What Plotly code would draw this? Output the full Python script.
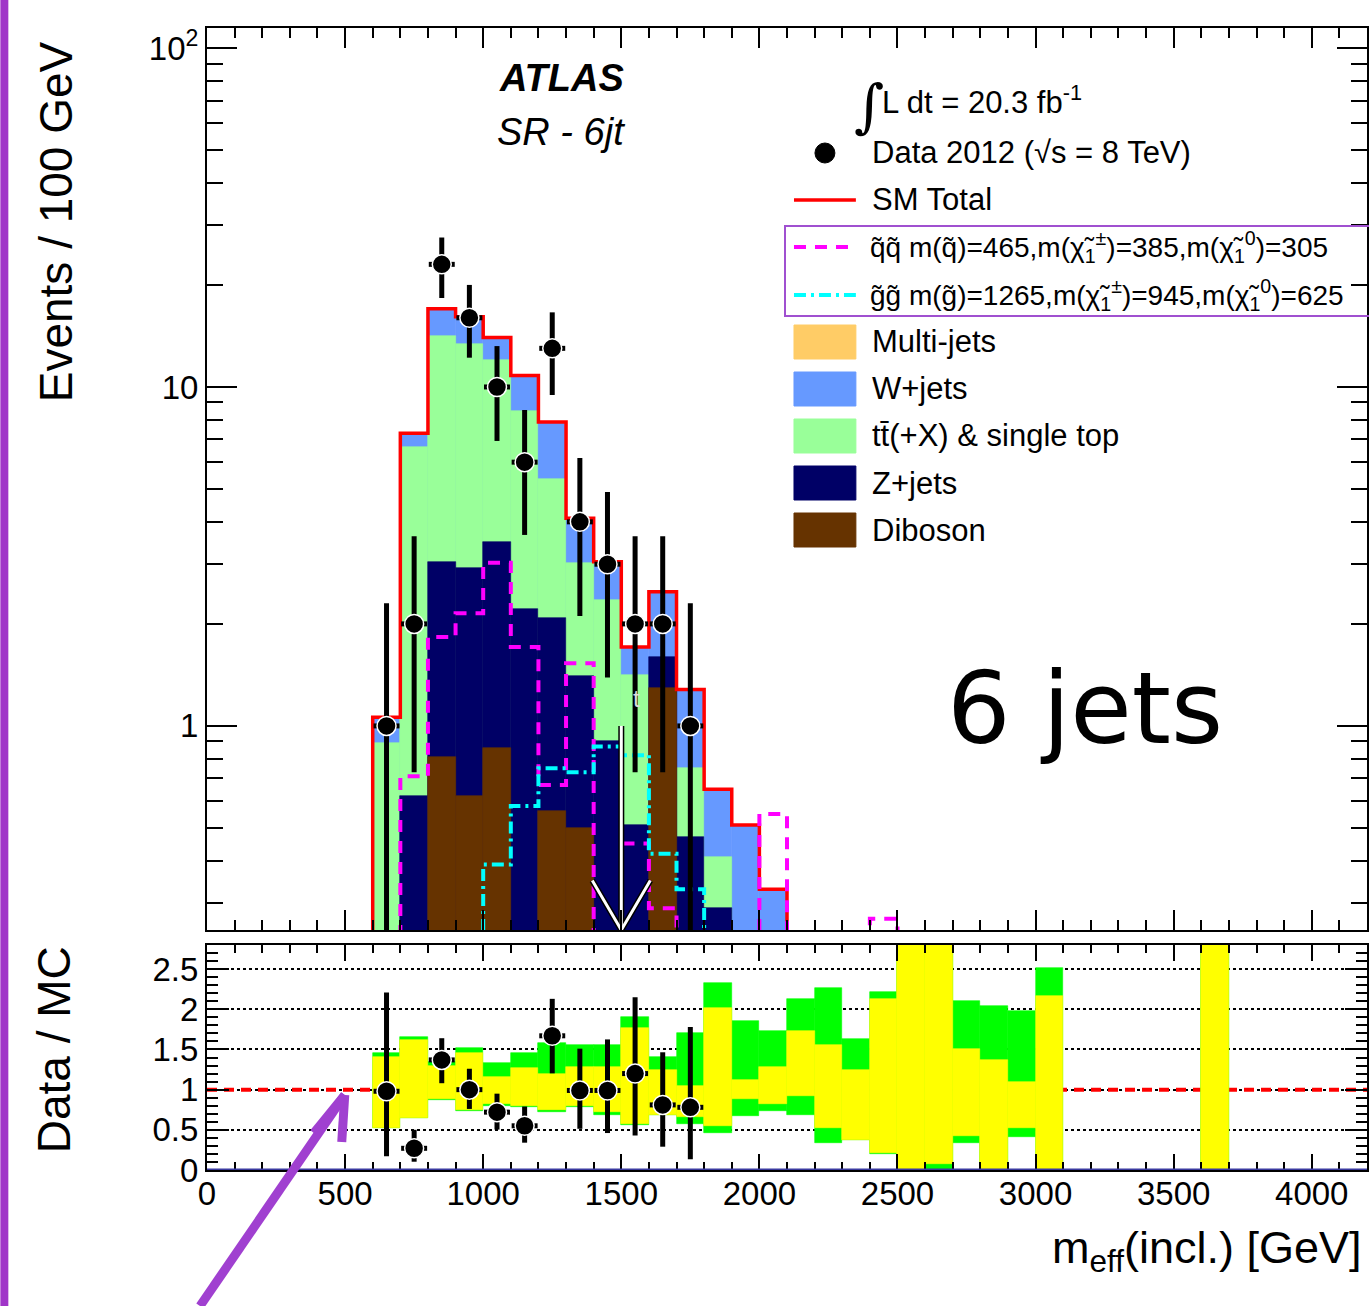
import plotly.graph_objects as go
import numpy as np

# ---------------- data ----------------
bin_lo = [600, 700, 800, 900, 1000, 1100, 1200, 1300, 1400, 1500, 1600, 1700, 1800, 1900, 2000]
diboson   = [0.0, 0.0, 0.81, 0.62, 0.86, 0.0, 0.56, 0.50, 0.0, 0.0, 1.29, 0.0, 0.0, 0.0, 0.0]
zjets     = [0.0, 0.62, 2.24, 2.30, 2.63, 2.21, 1.52, 0.90, 0.90, 0.51, 0.31, 0.47, 0.29, 0.0, 0.0]
ttbar     = [0.89, 6.03, 11.05, 10.5, 8.5, 6.3, 3.27, 1.63, 1.45, 0.90, 0.0, 0.28, 0.12, 0.0, 0.0]
wjets     = [0.17, 0.65, 2.9, 2.7, 2.0, 2.3, 2.53, 1.07, 0.70, 0.30, 0.89, 0.53, 0.24, 0.51, 0.33]
multijets = [0.0, 0.0, 0.0, 0.0, 0.0, 0.0, 0.0, 0.0, 0.0, 0.0, 0.0, 0.0, 0.0, 0.0, 0.0]

sig_lo = [600, 700, 800, 900, 1000, 1100, 1200, 1300, 1400, 1500, 1600, 1700, 1800, 1900, 2000, 2100, 2200, 2300, 2400]
sig_qq = [0.0, 0.71, 1.83, 2.15, 3.03, 1.71, 0.67, 1.53, 0.0, 0.45, 0.29, 0.0, 0.0, 0.0, 0.55, 0.0, 0.0, 0.0, 0.27]
sig_gg = [0.0, 0.0, 0.0, 0.0, 0.39, 0.58, 0.75, 0.73, 0.87, 0.82, 0.42, 0.33, 0.20, 0.0, 0.0, 0.0, 0.0, 0.0, 0.0]

data_x = [650, 750, 850, 950, 1050, 1150, 1250, 1350, 1450, 1550, 1650, 1750]
data_n = [1, 2, 23, 16, 10, 6, 13, 4, 3, 2, 2, 1]
data_err_up = [1.3, 1.63, 4.6, 4.0, 3.2, 2.55, 3.6, 2.17, 1.9, 1.63, 1.63, 1.3]
data_err_dn = [0.83, 1.27, 4.7, 3.8, 3.07, 2.34, 3.53, 1.89, 1.61, 1.27, 1.27, 0.83]

ratio_val = [0.98, 0.27, 1.37, 1.00, 0.72, 0.55, 1.67, 0.99, 0.99, 1.20, 0.81, 0.78]
ratio_up  = [1.23, 0.23, 0.27, 0.26, 0.23, 0.24, 0.46, 0.52, 0.635, 0.95, 0.655, 1.0]
ratio_dn  = [0.81, 0.167, 0.29, 0.24, 0.217, 0.21, 0.467, 0.477, 0.53, 0.77, 0.52, 0.645]

band_lo = [600, 700, 800, 900, 1000, 1100, 1200, 1300, 1400, 1500, 1600, 1700, 1800, 1900,
           2000, 2100, 2200, 2300, 2400, 2500, 2600, 2700, 2800, 2900, 3000, 3600]
yel_lo = [0.52, 0.65, 0.88, 0.75, 0.825, 0.80, 0.75, 0.80, 0.72, 0.575, 0.69, 0.66, 0.55, 0.88,
          0.825, 0.925, 0.52, 0.375, 0.217, 0.0, 0.075, 0.425, 0.0, 0.52, 0.0, 0.0]
yel_hi = [1.41, 1.62, 1.29, 1.46, 1.16, 1.27, 1.20, 1.28, 1.28, 1.77, 1.24, 1.05, 2.01, 1.12,
          1.28, 1.73, 1.55, 1.25, 2.13, 3.0, 3.0, 1.50, 1.375, 1.10, 2.16, 3.0]
grn_lo = [0.52, 0.65, 0.87, 0.73, 0.80, 0.78, 0.72, 0.78, 0.68, 0.554, 0.69, 0.575, 0.46, 0.675,
          0.73, 0.69, 0.34, 0.37, 0.20, 0.0, 0.0, 0.333, 0.0, 0.41, 0.0, 0.0]
grn_hi = [1.46, 1.65, 1.35, 1.52, 1.33, 1.46, 1.58, 1.56, 1.55, 1.90, 1.41, 1.71, 2.33, 1.85,
          1.73, 2.13, 2.27, 1.63, 2.21, 3.0, 3.0, 2.10, 2.04, 1.98, 2.52, 3.0]

x_ticks = [0, 500, 1000, 1500, 2000, 2500, 3000, 3500, 4000]
ratio_ticks = [0, 0.5, 1, 1.5, 2, 2.5]
ratio_tick_text = ["0", "0.5", "1", "1.5", "2", "2.5"]
top_ticks = [1, 10, 100]
top_tick_text = ["1", "10", "10<sup>2</sup>"]

cut_value = 1500

# ---------------- geometry ----------------
W, H = 1369, 1306
L, R, T, B = 207, 0, 28, 136
PW, PH = W - L - R, H - T - B
def fx(px): return (px - L) / PW
def fy(py): return (H - B - py) / PH

BW = 100
FLOOR = 1e-3
FONT = "Liberation Sans, Arial, Helvetica, sans-serif"

C_MJ, C_W, C_TT, C_Z, C_DB = "#FFCC66", "#6699FF", "#99FF99", "#000066", "#663300"

fig = go.Figure()

# ---------------- top panel stack (cumulative overlay, like THStack) ----------------
db = np.array(diboson); zj = np.array(zjets); tt = np.array(ttbar)
wj = np.array(wjets); mj = np.array(multijets)
cum_db = db
cum_z = cum_db + zj
cum_tt = cum_z + tt
cum_w = cum_tt + wj
total = cum_w + mj
centers = np.array(bin_lo) + BW / 2

def nz(arr, mask):
    return [float(v) if mask[i] > 0 else None for i, v in enumerate(arr)]

for yv, col, msk in [(total, C_MJ, mj), (cum_w, C_W, wj), (cum_tt, C_TT, tt),
                     (cum_z, C_Z, zj), (cum_db, C_DB, db)]:
    fig.add_trace(go.Bar(x=centers, y=nz(yv, msk), width=BW, marker=dict(color=col, line=dict(color=col, width=0.6)),
                         xaxis="x", yaxis="y", showlegend=False, hoverinfo="skip"))

def step_xy(lo, vals):
    xs = [lo[0] - BW] + list(lo) + [lo[-1] + BW, lo[-1] + 2 * BW]
    ys = [FLOOR] + [v if v > 0 else FLOOR for v in vals] + [FLOOR, FLOOR]
    return xs, ys

sx, sy = step_xy(bin_lo, total)
fig.add_trace(go.Scatter(x=sx, y=sy, mode="lines", line=dict(color="#FF0000", width=3.5, shape="hv"),
                         xaxis="x", yaxis="y", showlegend=False, hoverinfo="skip"))
qx, qy = step_xy(sig_lo, sig_qq)
fig.add_trace(go.Scatter(x=qx, y=qy, mode="lines", line=dict(color="#FF00FF", width=4, shape="hv", dash="12px,9px"),
                         xaxis="x", yaxis="y", showlegend=False, hoverinfo="skip"))
gx, gy = step_xy(sig_lo, sig_gg)
fig.add_trace(go.Scatter(x=gx, y=gy, mode="lines", line=dict(color="#00FFFF", width=4, shape="hv", dash="12px,5px,3px,5px"),
                         xaxis="x", yaxis="y", showlegend=False, hoverinfo="skip"))

# cut arrow (white with black outline)
arr_x = [cut_value, cut_value, None, cut_value - 105, cut_value, cut_value + 105]
arr_y = [1.0, 0.25, None, 0.35, 0.25, 0.35]
fig.add_trace(go.Scatter(x=arr_x, y=arr_y, mode="lines", line=dict(color="black", width=6),
                         xaxis="x", yaxis="y", showlegend=False, hoverinfo="skip"))
fig.add_trace(go.Scatter(x=arr_x, y=arr_y, mode="lines", line=dict(color="white", width=3),
                         xaxis="x", yaxis="y", showlegend=False, hoverinfo="skip"))

# data
fig.add_trace(go.Scatter(x=data_x, y=data_n, mode="markers",
                         marker=dict(color="black", size=19, line=dict(color="white", width=1.5)),
                         error_y=dict(type="data", array=data_err_up, arrayminus=data_err_dn,
                                      thickness=5, width=0, color="black"),
                         error_x=dict(type="constant", value=47, thickness=5, width=0, color="black"),
                         xaxis="x", yaxis="y", showlegend=False, hoverinfo="skip"))

# ---------------- ratio panel ----------------
bc = np.array(band_lo) + BW / 2
fig.add_trace(go.Bar(x=bc, y=np.array(grn_hi) - np.array(grn_lo), base=grn_lo, width=BW,
                     marker=dict(color="#00FF00", line=dict(color="#00FF00", width=0.6)),
                     xaxis="x2", yaxis="y2", showlegend=False, hoverinfo="skip"))
fig.add_trace(go.Bar(x=bc, y=np.array(yel_hi) - np.array(yel_lo), base=yel_lo, width=BW,
                     marker=dict(color="#FFFF00", line=dict(color="#FFFF00", width=0.6)),
                     xaxis="x2", yaxis="y2", showlegend=False, hoverinfo="skip"))
fig.add_trace(go.Scatter(x=data_x, y=ratio_val, mode="markers",
                         marker=dict(color="black", size=19, line=dict(color="white", width=1.5)),
                         error_y=dict(type="data", array=ratio_up, arrayminus=ratio_dn,
                                      thickness=5, width=0, color="black"),
                         error_x=dict(type="constant", value=47, thickness=5, width=0, color="black"),
                         xaxis="x2", yaxis="y2", showlegend=False, hoverinfo="skip"))

shapes = []
shapes.append(dict(type="line", xref="x2", yref="y2", x0=0, x1=4200, y0=1, y1=1, layer="between",
                   line=dict(color="#FF0000", width=4, dash="10px,7px")))
shapes.append(dict(type="line", xref="x2", yref="y2", x0=0, x1=4200, y0=0, y1=0, layer="above",
                   line=dict(color="#3a3aa0", width=3)))

# ---------------- axes ----------------
ydom_top = [fy(930), 1.0]
ydom_bot = [0.0, fy(945)]
minor_log = [m * d for d in (0.1, 1, 10, 100) for m in range(2, 10)]

axis_common = dict(showline=True, linecolor="black", linewidth=2, mirror="ticks", ticks="inside",
                   tickcolor="black", tickwidth=2, zeroline=False, showgrid=False,
                   tickfont=dict(family=FONT, size=33, color="black"))

fig.update_layout(
    width=W, height=H, margin=dict(l=L, r=R, t=T, b=B),
    paper_bgcolor="white", plot_bgcolor="white", barmode="overlay", bargap=0,
    xaxis=dict(axis_common, domain=[0, 1], anchor="y", range=[0, 4200], tickvals=x_ticks,
               ticklen=20, showticklabels=False,
               minor=dict(dtick=100, ticklen=10, ticks="inside", tickcolor="black", tickwidth=2)),
    yaxis=dict(axis_common, domain=ydom_top, anchor="x", type="log", range=[np.log10(0.25), 2.059],
               tickvals=top_ticks, ticktext=top_tick_text, ticklen=30,
               minor=dict(tickmode="array", tickvals=minor_log, ticklen=16, ticks="inside",
                          tickcolor="black", tickwidth=2)),
    xaxis2=dict(axis_common, domain=[0, 1], anchor="y2", range=[0, 4200], tickvals=x_ticks,
                ticktext=[str(v) for v in x_ticks], ticklen=16, ticklabelstandoff=-7,
                minor=dict(dtick=100, ticklen=8, ticks="inside", tickcolor="black", tickwidth=2)),
    yaxis2=dict(axis_common, domain=ydom_bot, anchor="x2", range=[0, 2.8],
                tickvals=ratio_ticks, ticktext=ratio_tick_text, ticklen=22,
                showgrid=True, gridcolor="black", gridwidth=1.5, griddash="dot",
                minor=dict(dtick=0.1, ticklen=11, ticks="inside", tickcolor="black", tickwidth=2)),
)

# ---------------- annotations / legend ----------------
ann = []
def text(px, py, s, size, xanchor="left", yanchor="middle", angle=0, color="black", family=FONT):
    ann.append(dict(x=fx(px), y=fy(py), xref="paper", yref="paper", text=s, showarrow=False,
                    xanchor=xanchor, yanchor=yanchor, textangle=angle,
                    font=dict(family=family, size=size, color=color)))

text(56, 222, "Events / 100 GeV", 46, xanchor="center", yanchor="middle", angle=-90)
text(54, 1050, "Data / MC", 46, xanchor="center", yanchor="middle", angle=-90)
text(1366, 1250, "m<sub>eff</sub>(incl.) [GeV]", 45, xanchor="right", yanchor="middle")
text(562, 78, "<b><i>ATLAS</i></b>", 38, xanchor="center")
text(562, 132, "<i>SR - 6jt</i>", 38, xanchor="center")
text(1087, 708, "6 jets", 100, xanchor="center", family="DejaVu Sans, sans-serif")
text(637, 698, "t", 24, xanchor="center", color="#dddddd")

# legend
text(870, 106, "∫", 58, xanchor="center", family="DejaVu Serif, serif")
text(881, 100, "L dt = 20.3 fb<sup>-1</sup>", 31)
shapes.append(dict(type="circle", xref="paper", yref="paper", x0=fx(816), x1=fx(836), y0=fy(163), y1=fy(143),
                   fillcolor="black", line=dict(color="black", width=1)))
text(871, 153, "Data 2012 (√s = 8 TeV)", 31)
shapes.append(dict(type="line", xref="paper", yref="paper", x0=fx(795), x1=fx(857), y0=fy(200), y1=fy(200),
                   line=dict(color="#FF0000", width=3.5)))
text(871, 200, "SM Total", 31)
shapes.append(dict(type="rect", xref="paper", yref="paper", x0=fx(786), x1=fx(1372), y0=fy(316), y1=fy(226),
                   line=dict(color="#A050D0", width=2)))
shapes.append(dict(type="line", xref="paper", yref="paper", x0=fx(795), x1=fx(857), y0=fy(247), y1=fy(247),
                   line=dict(color="#FF00FF", width=4, dash="12px,9px")))
text(869, 247, "q̃q̃ m(q̃)=465,m(χ̃<sub>1</sub><sup>±</sup>)=385,m(χ̃<sub>1</sub><sup>0</sup>)=305", 28)
shapes.append(dict(type="line", xref="paper", yref="paper", x0=fx(795), x1=fx(857), y0=fy(295), y1=fy(295),
                   line=dict(color="#00FFFF", width=4, dash="12px,5px,3px,5px")))
text(869, 295, "g̃g̃ m(g̃)=1265,m(χ̃<sub>1</sub><sup>±</sup>)=945,m(χ̃<sub>1</sub><sup>0</sup>)=625", 28)

leg_names = ["Multi-jets", "W+jets", "tt̄(+X) & single top", "Z+jets", "Diboson"]
leg_cols = [C_MJ, C_W, C_TT, C_Z, C_DB]
leg_y = [342, 389, 436, 483, 530]
for nm, col, yy in zip(leg_names, leg_cols, leg_y):
    shapes.append(dict(type="rect", xref="paper", yref="paper", x0=fx(795), x1=fx(857),
                       y0=fy(yy + 17), y1=fy(yy - 17), fillcolor=col, line=dict(color=col, width=1)))
    text(871, yy, nm, 31)

# decorations: purple side bar and arrow
shapes.append(dict(type="rect", xref="paper", yref="paper", x0=fx(0), x1=fx(8), y0=fy(1306), y1=fy(0),
                   fillcolor="#A035C8", line=dict(width=0)))
for (x0, y0, x1, y1) in [(200, 1306, 345, 1095), (345, 1095, 314, 1133), (345, 1095, 342, 1142)]:
    shapes.append(dict(type="line", xref="paper", yref="paper", x0=fx(x0), y0=fy(y0), x1=fx(x1), y1=fy(y1),
                       line=dict(color="#A040D0", width=9)))

fig.update_layout(annotations=ann, shapes=shapes)
fig.write_html("out.html", config={"displayModeBar": False},
               post_script="document.body.style.margin='0px';document.body.style.overflow='hidden';")
